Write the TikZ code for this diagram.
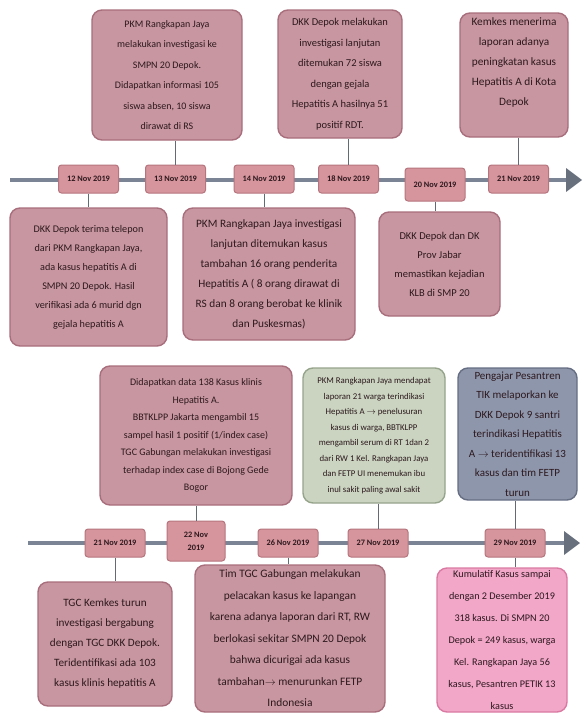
\documentclass[tikz,border=0pt]{standalone}
\usepackage{fontspec}
\setmainfont{Carlito}
\definecolor{mauve}{RGB}{200,150,160}
\definecolor{mauveedge}{RGB}{168,110,124}
\definecolor{datefill}{RGB}{214,148,156}
\definecolor{dateedge}{RGB}{182,116,126}
\definecolor{pinkfill}{RGB}{242,166,200}
\definecolor{pinkedge}{RGB}{218,122,162}
\definecolor{greenfill}{RGB}{202,212,192}
\definecolor{greenedge}{RGB}{150,164,140}
\definecolor{slatefill}{RGB}{142,150,172}
\definecolor{slateedge}{RGB}{102,110,132}
\definecolor{tline}{RGB}{122,132,148}
\definecolor{ttext}{RGB}{45,25,30}
\tikzset{
  evbox/.style={rounded corners=10pt, fill=mauve, draw=mauveedge, line width=1.4pt,
     align=center, text=ttext, inner sep=2pt},
  datebox/.style={rounded corners=3pt, fill=datefill, draw=dateedge, line width=1pt,
     align=center, text=ttext, minimum width=60pt, minimum height=28pt,
     font=\fontsize{8.3}{10}\selectfont\bfseries, inner sep=1pt},
  conn/.style={draw=tline!80!black, line width=0.7pt},
  tl/.style={draw=tline, line width=4.5pt},
  tip/.style={fill=tline!85!black, draw=none}
}
\begin{document}
\begin{tikzpicture}[x=1pt,y=-1pt]
\useasboundingbox (0,0) rectangle (582,718);
% ---------- timeline 1 ----------
\coordinate (t1s) at (10,180);
\coordinate (t1e) at (568,180);
\draw[tl] (t1s) -- (t1e);
\fill[tip] (566,168) -- (582,180) -- (566,192) -- cycle;
\node[datebox] (d12) at (88.5,179) {12 Nov 2019};
\node[datebox] (d13) at (175.5,179) {13 Nov 2019};
\node[datebox] (d14) at (264,179) {14 Nov 2019};
\node[datebox] (d18) at (348.5,179) {18 Nov 2019};
\node[datebox, minimum height=33pt] (d20) at (435,184.5) {20 Nov 2019};
\node[datebox] (d21) at (518.5,179) {21 Nov 2019};
% top boxes
\node[evbox, minimum width=150pt, minimum height=130pt, font=\fontsize{10}{20.5}\selectfont] (A) at (167,75)
 {PKM Rangkapan Jaya\\melakukan investigasi ke\\SMPN 20 Depok.\\Didapatkan informasi 105\\siswa absen, 10 siswa\\dirawat di RS};
\node[evbox, minimum width=124pt, minimum height=128pt, font=\fontsize{10.5}{20.5}\selectfont] (B) at (340,74)
 {DKK Depok melakukan\\investigasi lanjutan\\ditemukan 72 siswa\\dengan gejala\\Hepatitis A hasilnya 51\\positif RDT.};
\node[evbox, minimum width=108pt, minimum height=124pt, font=\fontsize{11.3}{20}\selectfont] (C) at (514,75)
 {Kemkes menerima\\laporan adanya\\peningkatan kasus\\Hepatitis A di Kota\\Depok\\[6pt]};
% bottom boxes
\node[evbox, minimum width=157pt, minimum height=138pt, font=\fontsize{10.2}{19}\selectfont] (D) at (88.5,277)
 {DKK Depok terima telepon\\dari PKM Rangkapan Jaya,\\ada kasus hepatitis A di\\SMPN 20 Depok. Hasil\\verifikasi ada 6 murid dgn\\gejala hepatitis A};
\node[evbox, minimum width=172pt, minimum height=132pt, font=\fontsize{11.3}{20}\selectfont] (E) at (269,274)
 {PKM Rangkapan Jaya investigasi\\lanjutan ditemukan kasus\\tambahan 16 orang penderita\\Hepatitis A ( 8 orang dirawat di\\RS dan 8 orang berobat ke klinik\\dan Puskesmas)};
\node[evbox, minimum width=121pt, minimum height=104pt, font=\fontsize{10.5}{19}\selectfont] (F) at (439.5,264)
 {DKK Depok dan DK\\Prov Jabar\\memastikan kejadian\\KLB di SMP 20};
% connectors 1
\draw[conn] (d13.north) -- (d13.north |- A.south);
\draw[conn] (d18.north) -- (d18.north |- B.south);
\draw[conn] (d21.north) -- (d21.north |- C.south);
\draw[conn] (d12.south) -- (d12.south |- D.north);
\draw[conn] (d14.south) -- (d14.south |- E.north);
\draw[conn] (d20.south) -- (d20.south |- F.north);
% ---------- timeline 2 ----------
\coordinate (t2s) at (28,543);
\coordinate (t2e) at (566,543);
\draw[tl] (t2s) -- (t2e);
\fill[tip] (564,531) -- (580,543) -- (564,555) -- cycle;
\node[datebox] (e21) at (115,543) {21 Nov 2019};
\node[datebox, minimum width=58pt, minimum height=40pt, font=\fontsize{8.3}{13}\selectfont\bfseries] (e22) at (196,541) {22 Nov\\2019};
\node[datebox] (e26) at (288,543) {26 Nov 2019};
\node[datebox] (e27) at (378,543) {27 Nov 2019};
\node[datebox] (e29) at (515,543) {29 Nov 2019};
% top boxes row 2
\node[evbox, minimum width=192pt, minimum height=139pt, font=\fontsize{10}{17.5}\selectfont] (G) at (196,435.5)
 {Didapatkan data 138 Kasus klinis\\Hepatitis A.\\BBTKLPP Jakarta mengambil 15\\sampel hasil 1 positif (1/index case)\\TGC Gabungan melakukan investigasi\\terhadap index case di Bojong Gede\\Bogor};
\node[evbox, fill=greenfill, draw=greenedge, minimum width=142pt, minimum height=135pt, font=\fontsize{8.8}{15.5}\selectfont] (H) at (374,435.5)
 {PKM Rangkapan Jaya mendapat\\laporan 21 warga terindikasi\\Hepatitis A $\rightarrow$ penelusuran\\kasus di warga, BBTKLPP\\mengambil serum di RT 1dan 2\\dari RW 1 Kel. Rangkapan Jaya\\dan FETP UI menemukan ibu\\inul sakit paling awal sakit};
\node[evbox, fill=slatefill, draw=slateedge, minimum width=119pt, minimum height=132pt, font=\fontsize{11}{19.5}\selectfont] (I) at (517.5,434)
 {Pengajar Pesantren\\TIK melaporkan ke\\DKK Depok 9 santri\\terindikasi Hepatitis\\A $\rightarrow$ teridentifikasi 13\\kasus dan tim FETP\\turun};
% bottom boxes row 2
\node[evbox, minimum width=134pt, minimum height=124pt, font=\fontsize{11.2}{20}\selectfont] (J) at (105,644)
 {TGC Kemkes turun\\investigasi bergabung\\dengan TGC DKK Depok.\\Teridentifikasi ada 103\\kasus klinis hepatitis A};
\node[evbox, minimum width=190pt, minimum height=147pt, font=\fontsize{11.4}{21.5}\selectfont] (K) at (290,638.5)
 {Tim TGC Gabungan melakukan\\pelacakan kasus ke lapangan\\karena adanya laporan dari RT, RW\\berlokasi sekitar SMPN 20 Depok\\bahwa dicurigai ada kasus\\tambahan$\rightarrow$ menurunkan FETP\\Indonesia};
\node[evbox, fill=pinkfill, draw=pinkedge, minimum width=130pt, minimum height=144pt, font=\fontsize{10.2}{22}\selectfont] (L) at (502,640)
 {Kumulatif Kasus sampai\\dengan 2 Desember 2019\\318 kasus. Di SMPN 20\\Depok = 249 kasus, warga\\Kel. Rangkapan Jaya  56\\kasus, Pesantren PETIK 13\\kasus};
% connectors 2
\draw[conn] (e22.north) -- (e22.north |- G.south);
\draw[conn] (e27.north) -- (e27.north |- H.south);
\draw[conn] (e29.north) -- (e29.north |- I.south);
\draw[conn] (e21.south) -- (e21.south |- J.north);
\draw[conn] (e26.south) -- (e26.south |- K.north);
\draw[conn] (e29.south) -- (e29.south |- L.north);
\end{tikzpicture}
\end{document}
